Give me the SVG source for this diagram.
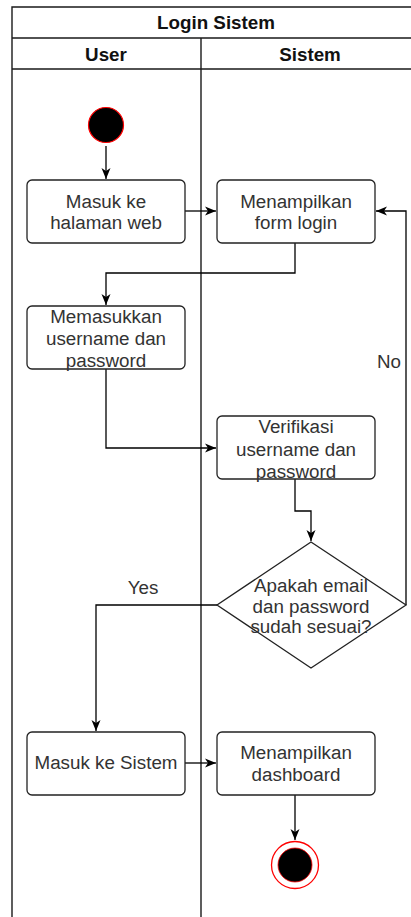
<svg xmlns="http://www.w3.org/2000/svg" width="411" height="917" viewBox="0 0 411 917">
  <style>
    .pool { fill: none; stroke: #1a1a1a; stroke-width: 1.4; }
    .title { font-family: "Liberation Sans", Arial, sans-serif; font-size: 18.8px; font-weight: bold; fill: #111; text-anchor: middle; }
    .act { fill: #fff; stroke: #222; stroke-width: 1.3; }
    .lbl { font-family: "Liberation Sans", Arial, sans-serif; font-size: 18.8px; fill: #333; text-anchor: middle; }
    .edge { fill: none; stroke: #000; stroke-width: 1.3; }
  </style>
  <defs>
    <marker id="arrow" markerUnits="userSpaceOnUse" markerWidth="12" markerHeight="10" refX="11" refY="5" orient="auto">
      <path d="M0,0.5 L11,5 L0,9.5 L3,5 Z" fill="#000"/>
    </marker>
  </defs>
  <rect width="411" height="917" fill="#fff"/>

  <!-- swimlane pool -->
  <g id="pool">
    <path class="pool" d="M12,917 V7 H420 M12,38 H420 M12,69 H420 M201,38 V917"/>
    <text class="title" x="216" y="29">Login Sistem</text>
    <text class="title" x="106" y="61">User</text>
    <text class="title" x="310" y="61">Sistem</text>
  </g>

  <!-- connectors -->
  <g id="connectors">
    <path class="edge" d="M106,146 V179" marker-end="url(#arrow)"/>
    <path class="edge" d="M185,211 H216" marker-end="url(#arrow)"/>
    <path class="edge" d="M295,243 V273 H106 V305" marker-end="url(#arrow)"/>
    <path class="edge" d="M106,369 V448 H216" marker-end="url(#arrow)"/>
    <path class="edge" d="M295,479 V511 H311 V541" marker-end="url(#arrow)"/>
    <path class="edge" d="M406,605 V211 H376" marker-end="url(#arrow)"/>
    <path class="edge" d="M217,605 H96 V731" marker-end="url(#arrow)"/>
    <path class="edge" d="M185,763 H216" marker-end="url(#arrow)"/>
    <path class="edge" d="M295,795 V840" marker-end="url(#arrow)"/>
    <text class="lbl" x="389" y="368">No</text>
    <text class="lbl" x="143" y="594">Yes</text>
  </g>

  <g id="start">
    <circle cx="106" cy="125" r="17.5" fill="#000" stroke="#ff0000" stroke-width="1.2"/>
  </g>

  <g id="masuk-web">
    <rect class="act" x="27" y="180" width="158" height="63" rx="5"/>
    <text class="lbl" x="106" y="208">Masuk ke</text>
    <text class="lbl" x="106" y="229">halaman web</text>
  </g>

  <g id="form-login">
    <rect class="act" x="217" y="180" width="158" height="63" rx="5"/>
    <text class="lbl" x="296" y="208">Menampilkan</text>
    <text class="lbl" x="296" y="229">form login</text>
  </g>

  <g id="input-akun">
    <rect class="act" x="27" y="306" width="158" height="63" rx="5"/>
    <text class="lbl" x="106" y="323">Memasukkan</text>
    <text class="lbl" x="106" y="345">username dan</text>
    <text class="lbl" x="106" y="367">password</text>
  </g>

  <g id="verifikasi">
    <rect class="act" x="217" y="416" width="158" height="63" rx="5"/>
    <text class="lbl" x="296" y="433">Verifikasi</text>
    <text class="lbl" x="296" y="456">username dan</text>
    <text class="lbl" x="296" y="478">password</text>
  </g>

  <g id="cek-akun">
    <polygon class="act" points="311,542 406,605 311,668 217,605"/>
    <text class="lbl" x="311" y="592">Apakah email</text>
    <text class="lbl" x="311" y="613">dan password</text>
    <text class="lbl" x="311" y="633">sudah sesuai?</text>
  </g>

  <g id="masuk-sistem">
    <rect class="act" x="27" y="732" width="158" height="63" rx="5"/>
    <text class="lbl" x="106" y="769">Masuk ke Sistem</text>
  </g>

  <g id="dashboard">
    <rect class="act" x="217" y="732" width="158" height="63" rx="5"/>
    <text class="lbl" x="296" y="759">Menampilkan</text>
    <text class="lbl" x="296" y="781">dashboard</text>
  </g>

  <g id="end">
    <circle cx="295" cy="865" r="23.5" fill="#fff" stroke="#ff0000" stroke-width="1.3"/>
    <circle cx="295" cy="865" r="17" fill="#000" stroke="#ff0000" stroke-width="0.8"/>
  </g>
</svg>
